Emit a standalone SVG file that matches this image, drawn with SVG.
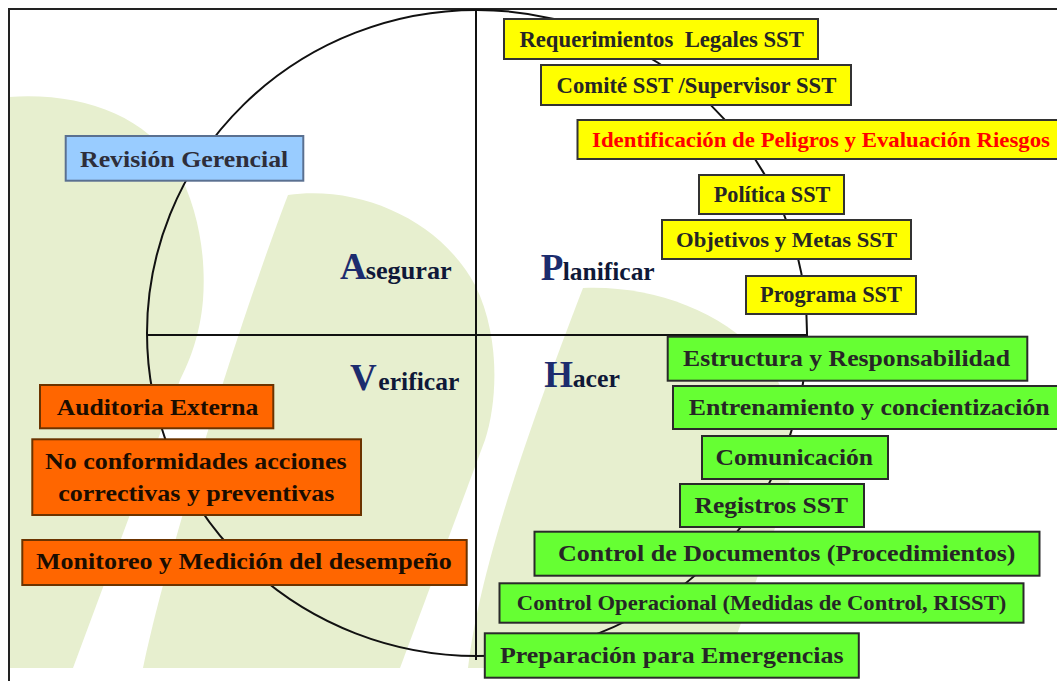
<svg xmlns="http://www.w3.org/2000/svg" width="1057" height="681" viewBox="0 0 1057 681">
<defs>
<style>
.bg{fill:#E7EFCF;stroke:none}
.ln{fill:none;stroke:#111;stroke-width:2}
.frame{fill:none;stroke:#222;stroke-width:2}
.y rect{fill:#FFFF00;stroke:#333;stroke-width:2}
.g rect{fill:#66FF33;stroke:#2a2a2a;stroke-width:2}
.o rect{fill:#FF6600;stroke:#6B3300;stroke-width:2}
.b rect{fill:#99CCFF;stroke:#5A7090;stroke-width:2}
text{font-family:"Liberation Serif","Times New Roman",serif;font-weight:bold}
.y text,.g text{fill:#262626}
.o text{fill:#1A0D00}
.b text{fill:#2E2E3A}
.red{fill:#FF0000!important}
.q1{fill:#1C2C6E;font-size:37px}
.q2{fill:#0F1838;font-size:26px}
</style>
</defs>
<rect width="1057" height="681" fill="#ffffff"/>
<g id="background">
<path class="bg" d="M9,97 C80,92 145,115 175,165 C200,210 206,260 203,300 C200,335 190,360 180,380 L73,668 L9,668 Z"/>
<path class="bg" d="M143,668 C165,560 240,320 288,195 C360,185 440,220 475,285 C500,335 498,400 485,440 L400,668 Z"/>
<path class="bg" d="M468,668 C480,560 540,400 583,288 C650,285 720,310 760,355 C795,395 800,450 785,500 L725,668 Z"/>
</g>
<g id="frame">
<path class="frame" d="M9,681 L9,9 L1057,9"/>
</g>
<g id="connectors">
<ellipse class="ln" cx="477" cy="333" rx="330" ry="323"/>
<line class="ln" x1="476" y1="9" x2="476" y2="660"/>
<line class="ln" x1="148" y1="335" x2="808" y2="335"/>
</g>
<g id="labels">
<text id="asegurar" y="279.3"><tspan class="q1" x="340">A</tspan><tspan class="q2" x="365.7" textLength="86" lengthAdjust="spacingAndGlyphs">segurar</tspan></text>
<text id="planificar" y="280"><tspan class="q1" x="540.7">P</tspan><tspan class="q2" x="562.7" textLength="92" lengthAdjust="spacingAndGlyphs">lanificar</tspan></text>
<text id="verificar" y="390"><tspan class="q1" x="350">V</tspan><tspan class="q2" x="378.3" textLength="81" lengthAdjust="spacingAndGlyphs">erificar</tspan></text>
<text id="hacer" y="387.3"><tspan class="q1" x="544.3">H</tspan><tspan class="q2" x="572.7" textLength="47.3" lengthAdjust="spacingAndGlyphs">acer</tspan></text>
</g>
<g id="n-requerimientos" class="y"><rect x="504" y="19" width="314" height="40"/><text x="519.4" y="46.7" font-size="23" textLength="284.5" lengthAdjust="spacingAndGlyphs" style="white-space:pre">Requerimientos  Legales SST</text></g>
<g id="n-comite" class="y"><rect x="541" y="65" width="310" height="40"/><text x="556.6" y="92.7" font-size="23" textLength="279.7" lengthAdjust="spacingAndGlyphs">Comité SST /Supervisor SST</text></g>
<g id="n-identificacion" class="y"><rect x="577.5" y="120" width="490" height="39"/><text class="red" x="592" y="146.7" font-size="22" textLength="458" lengthAdjust="spacingAndGlyphs">Identificación de Peligros y Evaluación Riesgos</text></g>
<g id="n-politica" class="y"><rect x="699" y="175" width="145" height="39"/><text x="713.7" y="201.7" font-size="23" textLength="116.7" lengthAdjust="spacingAndGlyphs">Política SST</text></g>
<g id="n-objetivos" class="y"><rect x="662" y="220" width="249" height="39"/><text x="676" y="247.3" font-size="22" textLength="221" lengthAdjust="spacingAndGlyphs">Objetivos y Metas SST</text></g>
<g id="n-programa" class="y"><rect x="746" y="276" width="170" height="38"/><text x="760" y="301.7" font-size="23" textLength="142" lengthAdjust="spacingAndGlyphs">Programa SST</text></g>
<g id="n-estructura" class="g"><rect x="667.7" y="336.7" width="359.6" height="44"/><text x="683" y="366" font-size="24" textLength="327" lengthAdjust="spacingAndGlyphs">Estructura y Responsabilidad</text></g>
<g id="n-entrenamiento" class="g"><rect x="673" y="386" width="395" height="43"/><text x="688.7" y="415" font-size="24" textLength="361" lengthAdjust="spacingAndGlyphs">Entrenamiento y concientización</text></g>
<g id="n-comunicacion" class="g"><rect x="702" y="436" width="186" height="43"/><text x="715.5" y="465" font-size="23" textLength="157.5" lengthAdjust="spacingAndGlyphs">Comunicación</text></g>
<g id="n-registros" class="g"><rect x="680" y="484" width="184" height="43"/><text x="694.6" y="512.7" font-size="24" textLength="153.4" lengthAdjust="spacingAndGlyphs">Registros SST</text></g>
<g id="n-documentos" class="g"><rect x="534.5" y="531.7" width="505" height="44"/><text x="558" y="561" font-size="24" textLength="457.5" lengthAdjust="spacingAndGlyphs">Control de Documentos (Procedimientos)</text></g>
<g id="n-operacional" class="g"><rect x="499.5" y="583.3" width="524" height="39.4"/><text x="516.8" y="610" font-size="22" textLength="489.5" lengthAdjust="spacingAndGlyphs">Control Operacional (Medidas de Control, RISST)</text></g>
<g id="n-emergencias" class="g"><rect x="484.8" y="633.3" width="374" height="44.4"/><text x="500" y="663.3" font-size="24" textLength="343.6" lengthAdjust="spacingAndGlyphs">Preparación para Emergencias</text></g>
<g id="n-revision" class="b"><rect x="65.7" y="136" width="237.6" height="44.7"/><text x="80" y="166.7" font-size="24" textLength="208.3" lengthAdjust="spacingAndGlyphs">Revisión Gerencial</text></g>
<g id="n-auditoria" class="o"><rect x="40" y="385" width="233.3" height="43.3"/><text x="56.7" y="415" font-size="24" textLength="201.6" lengthAdjust="spacingAndGlyphs">Auditoria Externa</text></g>
<g id="n-noconformidades" class="o"><rect x="32.3" y="439.3" width="328.7" height="75.7"/><text x="45" y="469.3" font-size="24" textLength="301.7" lengthAdjust="spacingAndGlyphs">No conformidades acciones</text><text x="58.3" y="500.7" font-size="24" textLength="276" lengthAdjust="spacingAndGlyphs">correctivas y preventivas</text></g>
<g id="n-monitoreo" class="o"><rect x="22.3" y="540" width="444.4" height="45"/><text x="36" y="569.3" font-size="24" textLength="415.7" lengthAdjust="spacingAndGlyphs">Monitoreo y Medición del desempeño</text></g>
</svg>
